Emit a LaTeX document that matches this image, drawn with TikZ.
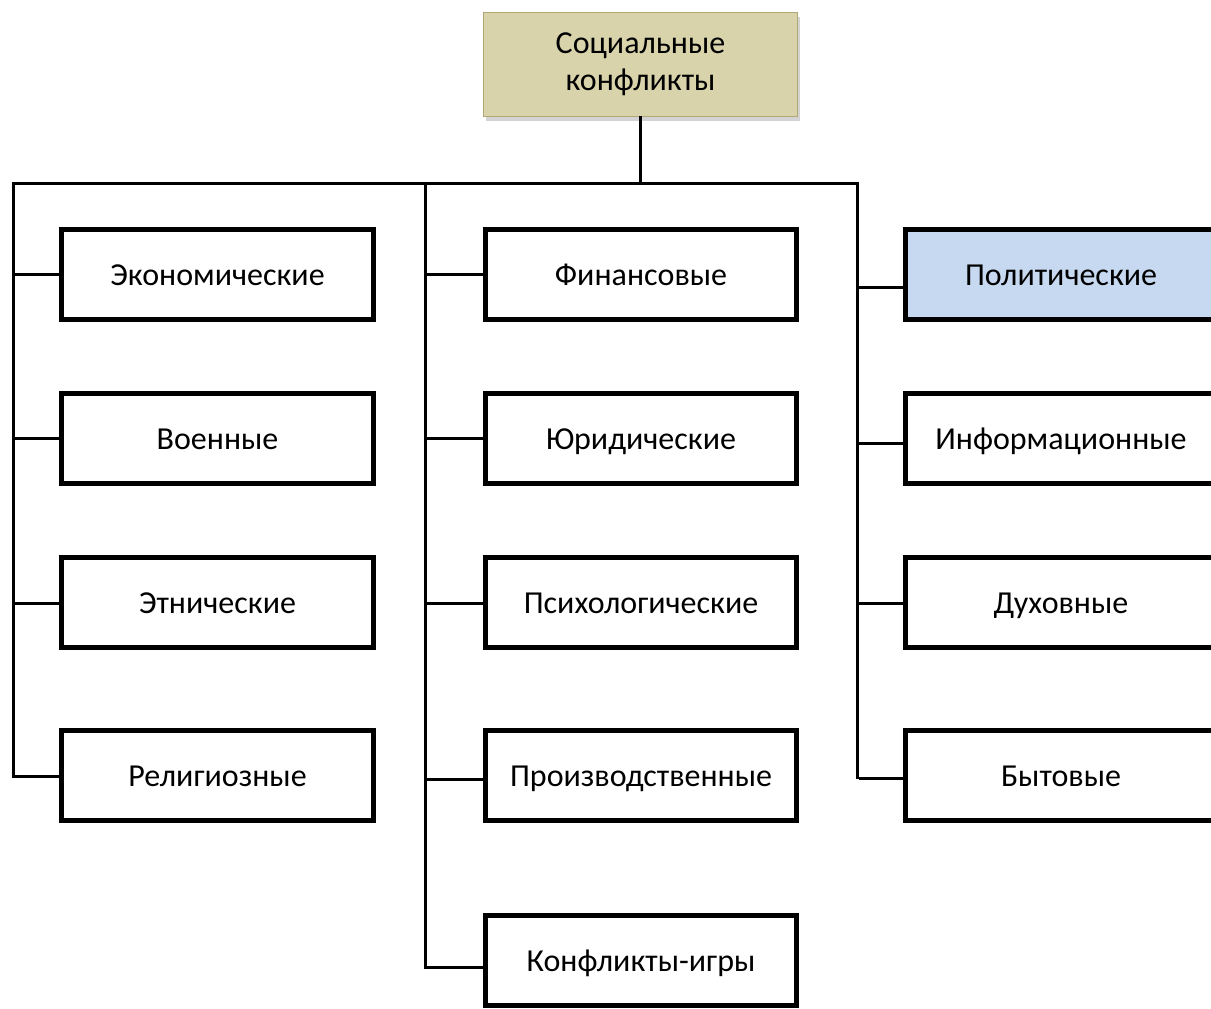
\documentclass[tikz,border=0pt]{standalone}
\usepackage{fontspec}
\setmainfont{Carlito}
\usetikzlibrary{shadows,calc}
\definecolor{tanfill}{RGB}{217,211,172}
\definecolor{tanedge}{RGB}{178,168,118}
\definecolor{polblue}{RGB}{198,217,241}
\tikzset{
  box/.style={draw=black, line width=5pt, fill=white, minimum height=90pt, inner sep=0pt, text height=22pt, text depth=1pt, font=\fontsize{32}{38}\selectfont},
  lbox/.style={box, minimum width=312pt},
  mbox/.style={box, minimum width=311pt},
  conn/.style={line width=3pt, line cap=rect},
  topbox/.style={draw=tanedge, line width=1pt, fill=tanfill, minimum width=314pt, minimum height=104pt, align=center, inner sep=0pt, font=\fontsize{32}{37}\selectfont, drop shadow={shadow xshift=2pt, shadow yshift=-4pt, opacity=0.35}}
}
\begin{document}
\begin{tikzpicture}[x=1pt,y=-1pt]
\useasboundingbox (0,0) rectangle (1211,1009);
% top
\node[topbox] (root) at (640.5,64.5) {Социальные\\конфликты};
% bus coordinates
\coordinate (bL) at (13,183);
\coordinate (bM) at (425,183);
\coordinate (bR) at (857,183);
\coordinate (bC) at (root.south |- bL);
% left column
\node[lbox] (eco) at (217.5,274.5) {Экономические};
\node[lbox] (mil) at (217.5,438.5) {Военные};
\node[lbox] (eth) at (217.5,602.5) {Этнические};
\node[lbox] (rel) at (217.5,775.5) {Религиозные};
% middle column
\node[mbox] (fin) at (641,274.5) {Финансовые};
\node[mbox] (jur) at (641,438.5) {Юридические};
\node[mbox] (psy) at (641,602.5) {Психологические};
\node[mbox] (pro) at (641,775.5) {Производственные};
\node[mbox] (gam) at (641,960.5) {Конфликты-игры};
% right column
\node[mbox, fill=polblue] (pol) at (1061,274.5) {Политические};
\node[mbox] (inf) at (1061,438.5) {Информационные};
\node[mbox] (spi) at (1061,602.5) {Духовные};
\node[mbox] (byt) at (1061,775.5) {Бытовые};
% connectors
\draw[conn] (root.south) -- (bC);
\draw[line width=3pt] (bL) -- (bR);
\coordinate (eL) at (13,776);
\coordinate (eM) at (425,967);
\coordinate (eR) at (857,777);
\draw[conn] (bL) -- (eL);
\draw[conn] (bM) -- (eM);
\draw[conn] (bR) -- (eR);
% stubs
\draw[line width=3pt] (bL |- eco.west) -- (eco.west);
\draw[line width=3pt] (bL |- mil.west) -- (mil.west);
\draw[line width=3pt] ($(bL |- eth.west)+(0,0.5)$) -- ($(eth.west)+(0,0.5)$);
\draw[line width=3pt] (eL) -- (eL -| rel.west);
\draw[line width=3pt] (bM |- fin.west) -- (fin.west);
\draw[line width=3pt] (bM |- jur.west) -- (jur.west);
\draw[line width=3pt] ($(bM |- psy.west)+(0,0.5)$) -- ($(psy.west)+(0,0.5)$);
\draw[line width=3pt] ($(bM |- pro.west)+(0,3.5)$) -- ($(pro.west)+(0,3.5)$);
\draw[line width=3pt] (eM) -- (eM -| gam.west);
\draw[line width=3pt] ($(bR |- pol.west)+(0,13)$) -- ($(pol.west)+(0,13)$);
\draw[line width=3pt] ($(bR |- inf.west)+(0,4.5)$) -- ($(inf.west)+(0,4.5)$);
\draw[line width=3pt] ($(bR |- spi.west)+(2,0.5)$) -- ($(spi.west)+(0,0.5)$);
\draw[line width=3pt] ($(bR |- byt.west)+(2,2.5)$) -- ($(byt.west)+(0,2.5)$);
\end{tikzpicture}
\end{document}
